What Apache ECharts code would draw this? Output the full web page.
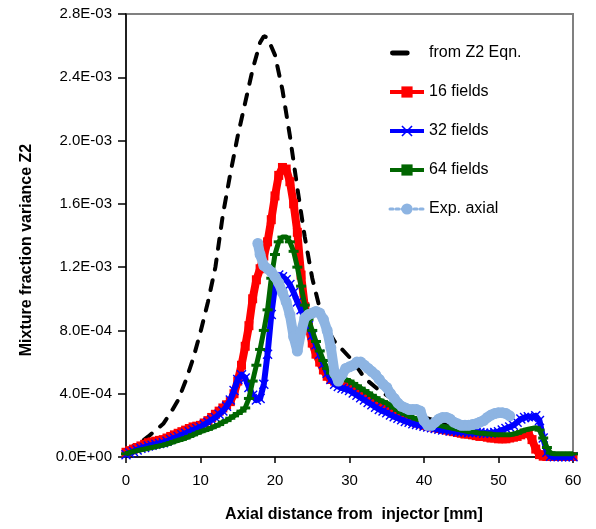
<!DOCTYPE html>
<html>
<head>
<meta charset="utf-8">
<script src="https://cdn.jsdelivr.net/npm/echarts@6/dist/echarts.min.js"></script>
<style>
html,body{margin:0;padding:0;background:#fff;}
#chart{width:596px;height:529px;}
</style>
</head>
<body>
<div id="chart"></div>
<script>
// Values are in units of 1e-4 (axis labels show the real magnitude)
const simX = [
 0,0.5,1,1.5,2,2.5,3,3.5,4,4.5,
 5,5.5,6,6.5,7,7.5,8,8.5,9,9.5,
 10,10.5,11,11.5,12,12.5,13,13.5,14,14.5,
 15,15.5,16,16.5,17,17.5,18,18.5,19,19.5,
 20,20.5,21,21.5,22,22.5,23,23.5,24,24.5,
 25,25.5,26,26.5,27,27.5,28,28.5,29,29.5,
 30,30.5,31,31.5,32,32.5,33,33.5,34,34.5,
 35,35.5,36,36.5,37,37.5,38,38.5,39,39.5,
 40,40.5,41,41.5,42,42.5,43,43.5,44,44.5,
 45,45.5,46,46.5,47,47.5,48,48.5,49,49.5,
 50,50.5,51,51.5,52,52.5,53,53.5,54,54.5,
 55,55.5,56,56.5,57,57.5,58,58.5,59,59.5,
 60];

const fields16 = [
 0.30,0.40,0.50,0.60,0.70,0.80,0.90,0.95,1.00,1.05,
 1.10,1.20,1.30,1.40,1.50,1.60,1.70,1.80,1.90,1.95,
 2.00,2.15,2.30,2.50,2.70,2.90,3.10,3.30,3.50,4.00,
 4.80,5.80,7.00,8.30,10.0,11.2,11.9,12.7,13.6,15.0,
 16.5,17.8,18.3,18.2,17.4,16.0,14.2,11.5,9.5,8.2,
 7.2,6.5,6.0,5.5,5.1,4.9,4.8,4.7,4.6,4.55,
 4.5,4.35,4.2,4.05,3.9,3.75,3.6,3.45,3.3,3.15,
 3.05,2.9,2.8,2.65,2.55,2.45,2.35,2.25,2.15,2.1,
 2.0,1.95,1.9,1.85,1.8,1.75,1.7,1.65,1.6,1.55,
 1.5,1.45,1.45,1.4,1.35,1.3,1.3,1.25,1.2,1.2,
 1.15,1.15,1.15,1.2,1.25,1.3,1.4,1.5,1.5,1.1,
 0.5,0.15,0.05,0.03,0.03,0.03,0.03,0.03,0.03,0.03,
 0.03];

const fields32 = [
 0.15,0.25,0.35,0.45,0.55,0.6,0.7,0.75,0.8,0.85,
 0.9,1.0,1.1,1.2,1.3,1.4,1.5,1.6,1.7,1.8,
 1.9,2.05,2.2,2.35,2.5,2.7,2.9,3.2,3.6,4.2,
 4.9,5.2,5.0,4.4,3.9,3.6,3.7,4.6,6.5,9.0,
 10.8,11.5,11.4,11.2,10.9,10.4,9.8,9.3,8.8,8.3,
 7.7,7.1,6.5,5.9,5.3,4.9,4.6,4.45,4.35,4.3,
 4.2,4.05,3.9,3.75,3.6,3.45,3.3,3.15,3.0,2.9,
 2.8,2.65,2.55,2.45,2.35,2.25,2.2,2.1,2.05,2.0,
 1.95,1.9,1.85,1.8,1.75,1.7,1.7,1.65,1.65,1.6,
 1.6,1.6,1.55,1.55,1.55,1.55,1.5,1.5,1.5,1.55,
 1.6,1.7,1.8,1.9,2.0,2.2,2.4,2.5,2.55,2.5,
 2.6,2.3,1.2,0.3,0.05,0.02,0.02,0.02,0.02,0.02,
 0.02];

const fields64 = [
 0.2,0.28,0.35,0.4,0.45,0.5,0.55,0.6,0.65,0.7,
 0.75,0.82,0.9,0.98,1.05,1.12,1.2,1.3,1.4,1.5,
 1.6,1.68,1.75,1.85,1.95,2.05,2.2,2.3,2.45,2.6,
 2.75,2.9,3.1,3.7,4.8,5.8,6.8,8.0,9.3,11.3,
 12.8,13.6,13.9,13.9,13.6,13.0,12.0,10.8,9.6,8.7,
 8.0,7.3,6.7,6.1,5.6,5.3,5.1,5.0,4.95,4.9,
 4.8,4.65,4.5,4.35,4.2,4.05,3.9,3.75,3.6,3.5,
 3.4,3.25,3.1,2.95,2.8,2.7,2.6,2.5,2.4,2.35,
 2.3,2.2,2.1,2.05,2.0,1.95,1.9,1.85,1.8,1.75,
 1.7,1.65,1.6,1.6,1.55,1.5,1.5,1.45,1.45,1.4,
 1.4,1.4,1.4,1.4,1.45,1.5,1.6,1.7,1.75,1.8,
 1.85,1.7,1.2,0.6,0.25,0.2,0.2,0.2,0.2,0.2,
 0.2];

const eqnX = [0,1,2,3,4,5,6,7,8,9,10,11,12,13,14,15,16,17,18,18.5,19,20,21,22,23,24,25,26,27,28,29,30,31,32,34,36,38,40,43,46];
const eqnY = [0.4,0.7,0.95,1.3,1.7,2.1,2.8,3.6,4.8,6.2,7.9,9.8,12.0,15.3,17.9,20.3,22.4,24.5,26.2,26.6,26.5,25.4,23.2,20.3,17.0,13.9,11.3,9.4,8.1,7.3,6.8,6.3,5.7,5.0,4.2,3.6,3.0,2.5,2.1,1.8];

const expX = [17.7,18,18.5,19,19.5,20,20.5,21,21.5,22,22.5,23,23.5,24,24.5,25,25.5,26,26.5,27,27.5,28,28.5,29,29.5,30,30.5,31,31.5,32,32.5,33,33.5,34,34.5,35,35.5,36,36.5,37,37.5,38,38.5,39,39.5,40,40.5,41,41.5,42,42.5,43,43.5,44,44.5,45,45.5,46,46.5,47,47.5,48,48.5,49,49.5,50,50.5,51,51.5];
const expY = [13.5,12.8,12.1,11.9,11.7,11.4,11.0,10.4,9.8,9.0,7.6,6.7,7.9,8.8,9.0,9.1,9.2,9.1,8.7,8.0,6.9,5.3,4.8,5.2,5.6,5.7,5.8,6.0,6.0,5.8,5.6,5.4,5.2,4.9,4.6,4.4,4.0,3.7,3.4,3.2,3.1,3.0,3.0,3.0,2.9,2.3,2.0,2.0,2.2,2.4,2.5,2.5,2.4,2.2,2.1,2.0,2.0,2.0,2.05,2.1,2.2,2.3,2.5,2.65,2.75,2.8,2.8,2.75,2.6];

const yTickLabels = ['0.0E+00','4.0E-04','8.0E-04','1.2E-03','1.6E-03','2.0E-03','2.4E-03','2.8E-03'];
const seriesNames = ['from Z2 Eqn.','16 fields','32 fields','64 fields','Exp. axial'];

function pairs(xs, ys){ return xs.map((x,i)=>[x, ys[i]]); }

const FONT = 'Liberation Sans, Arial, sans-serif';
const xMark = 'path://M0,1 L1,0 L5,4 L9,0 L10,1 L6,5 L10,9 L9,10 L5,6 L1,10 L0,9 L4,5 Z';
const dashMark = 'path://M0,0 L10,0 L10,3 L0,3 Z';
const blackIcon = 'path://M2,0 L17,0 A2.5,2.5 0 0 1 17,5 L2,5 A2.5,2.5 0 0 1 2,0 Z M34,0 L34,5 L34,0 Z';

const chart = echarts.init(document.getElementById('chart'), null, {renderer:'canvas'});
chart.setOption({
  animation:false,
  backgroundColor:'#ffffff',
  grid:{left:126, right:23, top:14, bottom:72, show:true, borderColor:'#808080', borderWidth:2, backgroundColor:'#ffffff'},
  xAxis:{
    type:'value', min:0, max:60, interval:10,
    axisLine:{show:true, onZero:false, lineStyle:{color:'#000', width:1.5}},
    axisTick:{show:true, inside:false, length:6, lineStyle:{color:'#000', width:1.5}},
    axisLabel:{color:'#000', fontSize:15, fontFamily:FONT, margin:16},
    splitLine:{show:false}
  },
  yAxis:{
    type:'value', min:0, max:28, interval:4,
    axisLine:{show:true, onZero:false, lineStyle:{color:'#000', width:1.5}},
    axisTick:{show:true, inside:false, length:8, lineStyle:{color:'#000', width:1.5}},
    axisLabel:{color:'#000', fontSize:15, fontFamily:FONT, margin:14,
      formatter:(v)=>yTickLabels[Math.round(v/4)]},
    splitLine:{show:false}
  },
  legend:{
    orient:'vertical', left:388, top:45, padding:0,
    itemWidth:34, itemHeight:14, itemGap:23,
    textStyle:{fontSize:16, fontFamily:FONT, color:'#000'},
    data:[
      {name:seriesNames[0], icon:blackIcon, itemStyle:{color:'#000'}},
      {name:seriesNames[1], lineStyle:{width:4}},
      {name:seriesNames[2], lineStyle:{width:4}},
      {name:seriesNames[3], lineStyle:{width:4}},
      {name:seriesNames[4], lineStyle:{width:3, type:'dotted'}}
    ]
  },
  graphic:[
    {type:'text', x:27, y:250, rotation:Math.PI/2,
     style:{text:'Mixture fraction variance Z2', font:'bold 16px '+FONT, fill:'#000', textAlign:'center', textVerticalAlign:'middle'}},
    {type:'text', x:354, y:515,
     style:{text:'Axial distance from  injector [mm]', font:'bold 16px '+FONT, fill:'#000', textAlign:'center', textVerticalAlign:'middle'}}
  ],
  series:[
    {name:seriesNames[0], type:'line', data:pairs(eqnX, eqnY), showSymbol:false, symbol:'none', clip:false,
     lineStyle:{color:'#000', width:4, type:[10,11], cap:'round'}, itemStyle:{color:'#000'}, z:2},
    {name:seriesNames[1], type:'line', data:pairs(simX, fields16), symbol:'rect', symbolSize:9, showAllSymbol:true, clip:false,
     lineStyle:{color:'#ff0000', width:8, join:'round'}, itemStyle:{color:'#ff0000'}, z:3},
    {name:seriesNames[2], type:'line', data:pairs(simX, fields32), symbol:xMark, symbolSize:10, showAllSymbol:true, clip:false,
     lineStyle:{color:'#0000ff', width:6, join:'round'}, itemStyle:{color:'#0000ff'}, z:4},
    {name:seriesNames[3], type:'line', data:pairs(simX, fields64), symbol:dashMark, symbolSize:[10,3], showAllSymbol:true, clip:false,
     lineStyle:{color:'#006600', width:5, join:'round'}, itemStyle:{color:'#006600'}, z:5},
    {name:seriesNames[4], type:'line', data:pairs(expX, expY), symbol:'circle', symbolSize:11, showAllSymbol:true, clip:false,
     lineStyle:{color:'#8db4e2', width:10, cap:'round', join:'round'}, itemStyle:{color:'#8db4e2'}, z:6}
  ]
});
</script>
</body>
</html>
